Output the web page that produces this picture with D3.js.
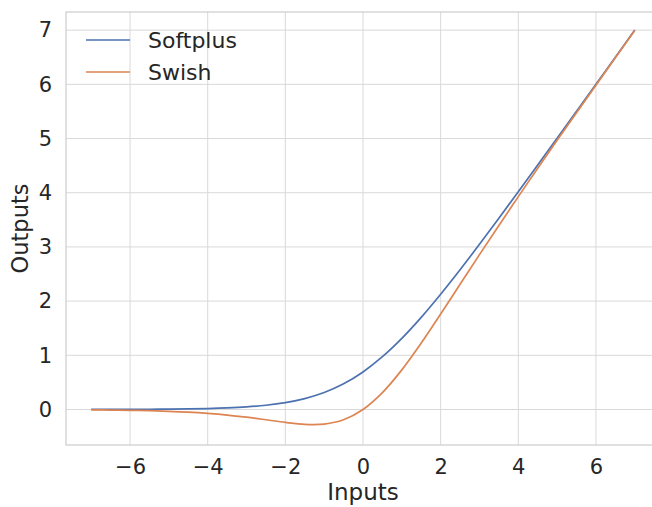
<!DOCTYPE html>
<html>
<head>
<meta charset="utf-8">
<script src="https://cdn.jsdelivr.net/npm/d3@7"></script>
<style>
  html, body { margin: 0; padding: 0; background: #fff; }
  svg { display: block; }
  text { font-family: "DejaVu Sans", sans-serif; fill: #262626; }
</style>
</head>
<body>
<svg id="chart" width="652" height="507"></svg>
<script>
// Data
const inputs = [-7, -6.5, -6, -5.5, -5, -4.5, -4, -3.5, -3, -2.5, -2, -1.5, -1, -0.5, 0, 0.5, 1, 1.5, 2, 2.5, 3, 3.5, 4, 4.5, 5, 5.5, 6, 6.5, 7];
const softplus = [0.001, 0.0015, 0.0025, 0.004, 0.007, 0.011, 0.018, 0.03, 0.049, 0.079, 0.127, 0.201, 0.313, 0.474, 0.693, 0.974, 1.313, 1.701, 2.127, 2.579, 3.049, 3.53, 4.018, 4.511, 5.007, 5.504, 6.002, 6.502, 7.001];
const swish = [-0.006, -0.010, -0.015, -0.022, -0.033, -0.049, -0.072, -0.102, -0.142, -0.189, -0.238, -0.274, -0.269, -0.189, 0, 0.311, 0.731, 1.226, 1.762, 2.31, 2.858, 3.397, 3.928, 4.45, 4.967, 5.477, 5.985, 6.49, 6.994];
const seriesNames = ["Softplus", "Swish"];
const seriesColors = ["#4c72b0", "#dd8452"];
const xTicks = [-6, -4, -2, 0, 2, 4, 6];
const yTicks = [0, 1, 2, 3, 4, 5, 6, 7];
const xLabel = "Inputs";
const yLabel = "Outputs";

const svg = d3.select("#chart");
const mLeft = 66, mRight = 660, mTop = 12, mBottom = 445;

const x = d3.scaleLinear().domain([-7.65, 7.65]).range([mLeft, mRight]);
const y = d3.scaleLinear().domain([-0.655, 7.335]).range([mBottom, mTop]);

const grid = svg.append("g");
grid.selectAll("line.vx").data(xTicks).join("line")
  .attr("x1", d => x(d)).attr("x2", d => x(d))
  .attr("y1", mTop).attr("y2", mBottom)
  .attr("stroke", "#d9d9d9").attr("stroke-width", 1);
grid.selectAll("line.hy").data(yTicks).join("line")
  .attr("x1", mLeft).attr("x2", mRight)
  .attr("y1", d => y(d)).attr("y2", d => y(d))
  .attr("stroke", "#d9d9d9").attr("stroke-width", 1);

svg.append("rect")
  .attr("x", mLeft).attr("y", mTop)
  .attr("width", mRight - mLeft).attr("height", mBottom - mTop)
  .attr("fill", "none").attr("stroke", "#cccccc").attr("stroke-width", 1.2);

const xAxis = svg.append("g").attr("transform", `translate(0,${mBottom})`)
  .call(d3.axisBottom(x).tickValues(xTicks).tickSize(0).tickPadding(14)
    .tickFormat(d => String(d).replace("-", "\u2212")));
xAxis.select(".domain").remove();
xAxis.selectAll("text").attr("font-size", 21).attr("fill", "#262626")
  .attr("font-family", "DejaVu Sans, sans-serif");

const yAxis = svg.append("g").attr("transform", `translate(${mLeft},0)`)
  .call(d3.axisLeft(y).tickValues(yTicks).tickSize(0).tickPadding(14));
yAxis.select(".domain").remove();
yAxis.selectAll("text").attr("font-size", 21).attr("fill", "#262626")
  .attr("font-family", "DejaVu Sans, sans-serif");

svg.append("text").attr("x", 363).attr("y", 500)
  .attr("text-anchor", "middle").attr("font-size", 23).text(xLabel);
svg.append("text")
  .attr("transform", `translate(28,${(mTop + mBottom) / 2}) rotate(-90)`)
  .attr("text-anchor", "middle").attr("font-size", 22.5).text(yLabel);

const line = d3.line().x(d => x(d[0])).y(d => y(d[1])).curve(d3.curveCatmullRom.alpha(0.5));
const series = [softplus, swish];
series.forEach((vals, i) => {
  svg.append("path")
    .datum(inputs.map((v, j) => [v, vals[j]]))
    .attr("d", line)
    .attr("fill", "none")
    .attr("stroke", seriesColors[i])
    .attr("stroke-width", 1.7);
});

const legend = svg.append("g");
seriesNames.forEach((name, i) => {
  const ly = 40 + i * 32;
  legend.append("line").attr("x1", 86).attr("x2", 130).attr("y1", ly).attr("y2", ly)
    .attr("stroke", seriesColors[i]).attr("stroke-width", 1.7);
  legend.append("text").attr("x", 148).attr("y", ly).attr("dy", "0.35em")
    .attr("font-size", 22).text(name);
});
</script>
</body>
</html>
